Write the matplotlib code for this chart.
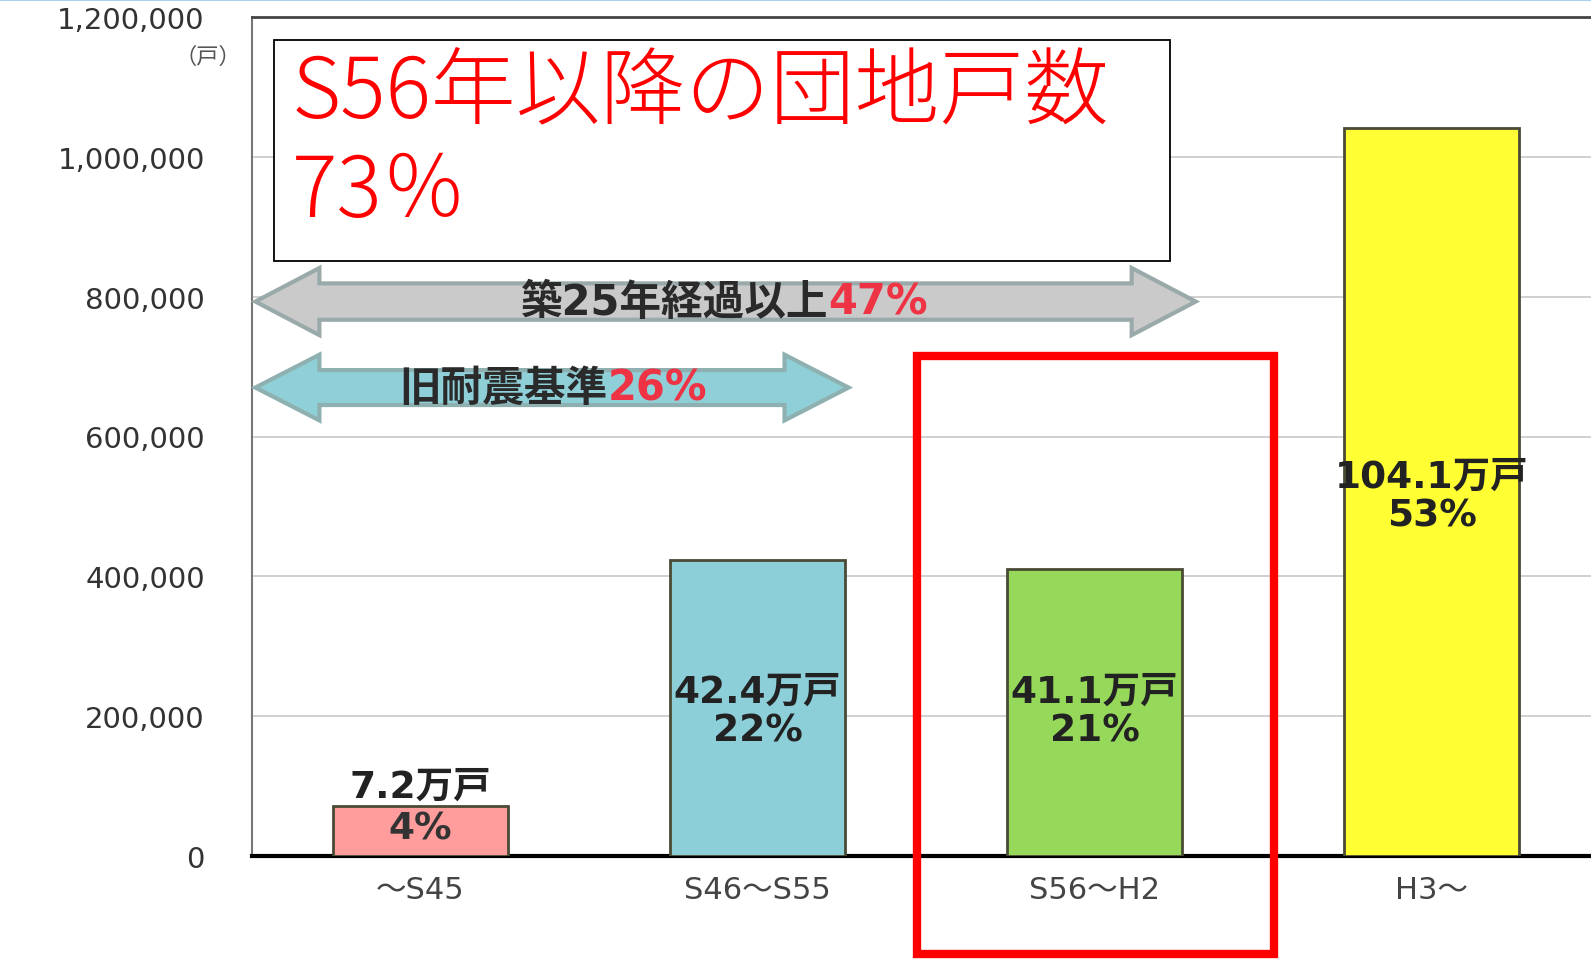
import matplotlib
matplotlib.use("Agg")
import matplotlib.pyplot as plt
from matplotlib.patches import Rectangle, Polygon
from matplotlib.lines import Line2D

plt.rcParams['font.family'] = ['DejaVu Sans', 'Noto Sans CJK JP']

# data
categories = ["～S45", "S46～S55", "S56～H2", "H3～"]
units = [72000, 424000, 411000, 1041000]
unit_labels = ["7.2万戸", "42.4万戸", "41.1万戸", "104.1万戸"]
shares = ["4%", "22%", "21%", "53%"]
bar_colors = ["#ff9c9c", "#8ccfd8", "#96d95a", "#ffff33"]
yticks = [0, 200000, 400000, 600000, 800000, 1000000, 1200000]

W, H = 1591, 962
fig = plt.figure(figsize=(W / 100, H / 100), dpi=100)
ax = fig.add_axes([252 / W, 1 - 857 / H, 1 - 252 / W + 0.01, (857 - 18) / H])

x = range(len(categories))
ax.bar(x, units, width=0.52, color=bar_colors, edgecolor="#4a4a35", linewidth=2, zorder=3)

ax.set_xlim(-0.5, 3.52)
ax.set_ylim(0, 1200000)
ax.set_yticks(yticks)
ax.set_yticklabels([f"{v:,}" for v in yticks], fontsize=21, color="#333333")
ax.set_xticks(list(x))
ax.set_xticklabels(categories, fontsize=22, color="#444444")
ax.tick_params(axis="y", length=0, pad=34)
ax.tick_params(axis="x", length=0, pad=14)
ax.grid(axis="y", color="#c8c8c8", linewidth=1.2, zorder=0)
ax.spines["right"].set_visible(False)
ax.spines["top"].set_color("#444444")
ax.spines["top"].set_linewidth(2)
ax.spines["left"].set_color("#777777")
ax.spines["left"].set_linewidth(1.5)
ax.spines["bottom"].set_color("black")
ax.spines["bottom"].set_linewidth(3)

fig.text(208 / W, 1 - 57 / H, "（戸）", fontsize=16, color="#555555",
         ha="center", va="center", family=["Noto Sans CJK JP"])

# value labels
for i, (v, ul, sh) in enumerate(zip(units, unit_labels, shares)):
    if v < 100000:
        ax.text(i, 99000, ul, ha="center", va="center", fontsize=27,
                fontweight="bold", color="#222222", zorder=4)
        ax.text(i, 40000, sh, ha="center", va="center", fontsize=27,
                fontweight="bold", color="#333333", zorder=4)
    else:
        top = 235000 if v < 600000 else 543000
        ax.text(i, top, ul, ha="center", va="center", fontsize=27,
                fontweight="bold", color="#222222", zorder=4)
        ax.text(i, top - 56000, sh, ha="center", va="center", fontsize=27,
                fontweight="bold", color="#222222", zorder=4)


def double_arrow(x0, x1, yc, body, head, hl, face, edge):
    pts = [(x0, yc), (x0 + hl, yc + head), (x0 + hl, yc + body),
           (x1 - hl, yc + body), (x1 - hl, yc + head), (x1, yc),
           (x1 - hl, yc - head), (x1 - hl, yc - body),
           (x0 + hl, yc - body), (x0 + hl, yc - head)]
    ax.add_patch(Polygon(pts, closed=True, facecolor=face, edgecolor=edge,
                         linewidth=3, zorder=5, clip_on=False))


double_arrow(-0.49, 2.3, 793000, 26000, 48000, 0.19, "#cacaca", "#9aaaaa")
double_arrow(-0.49, 1.27, 670000, 25000, 47000, 0.19, "#8fcfd8", "#8fb0b0")

ax.text(1.21, 793000, "築25年経過以上", ha="right", va="center", fontsize=30,
        fontweight="bold", color="#2a2a2a", zorder=6)
ax.text(1.21, 793000, "47%", ha="left", va="center", fontsize=30,
        fontweight="bold", color="#ee3344", zorder=6)
ax.text(0.555, 670000, "旧耐震基準", ha="right", va="center", fontsize=30,
        fontweight="bold", color="#2a2a2a", zorder=6)
ax.text(0.555, 670000, "26%", ha="left", va="center", fontsize=30,
        fontweight="bold", color="#ee3344", zorder=6)

# annotation box
fig.patches.append(Rectangle((274 / W, 1 - 262 / H), (1170 - 274) / W, (262 - 41) / H,
                             transform=fig.transFigure, facecolor="white",
                             edgecolor="black", linewidth=1.3, zorder=10))
fig.text(292 / W, 1 - 50 / H, "S56年以降の団地戸数\n73％", fontsize=61, color="red",
         ha="left", va="top", linespacing=1.2, fontweight="light",
         family=["Noto Sans CJK JP"], zorder=11)

# red highlight frame
fig.patches.append(Rectangle((917 / W, 1 - 955 / H), (1274 - 917) / W, (955 - 357) / H,
                             transform=fig.transFigure, facecolor="none",
                             edgecolor="red", linewidth=6, zorder=12))

fig.lines.append(Line2D([0, 1], [1 - 1 / H, 1 - 1 / H], transform=fig.transFigure,
                        color="#a8d0f0", linewidth=1.5))

fig.savefig("out.png", dpi=100)
